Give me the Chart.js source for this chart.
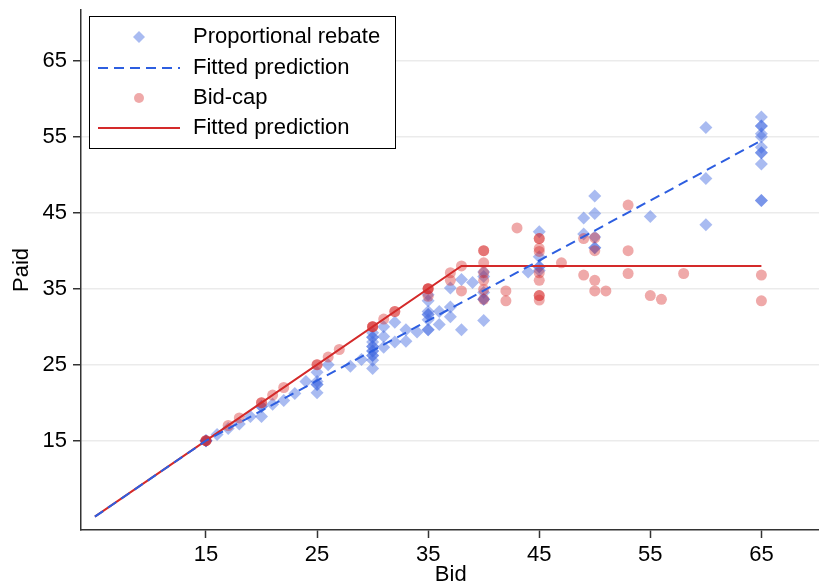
<!DOCTYPE html>
<html>
<head>
<meta charset="utf-8">
<script src="https://cdn.jsdelivr.net/npm/chart.js@4"></script>
<style>
  html, body { margin: 0; padding: 0; background: #fff; overflow: hidden; width: 819px; height: 588px; }
  canvas { display: block; }
</style>
</head>
<body>
<canvas id="bidChart" width="827" height="588"></canvas>
<script>
// Proportional rebate observations
const rebateBid = [15, 15, 15, 16, 17, 18, 19, 20, 20, 20, 21, 22, 23, 24,
    25, 25, 25, 25, 25, 26, 28, 29,
    30, 30, 30, 30, 30, 30, 30, 30, 30, 30, 30, 30,
    31, 31, 31, 32, 32, 33, 33, 34,
    35, 35, 35, 35, 35, 35, 35, 35, 36, 36, 37, 37, 37, 38, 38, 39,
    40, 40, 40, 40, 40, 40, 44, 45, 45, 45, 45, 45,
    49, 49, 50, 50, 50, 50, 50, 55, 60, 60, 60,
    65, 65, 65, 65, 65, 65, 65, 65, 65, 65, 65];
const rebatePaid = [15, 15, 15, 15.8, 16.6, 17.2, 18.2, 18.2, 19.5, 19.5, 19.8, 20.3, 21.2, 22.8,
    21.3, 22.4, 22.4, 22.8, 24, 25, 24.8, 25.7,
    24.5, 26.2, 26.2, 26.8, 26.8, 27.4, 27.4, 28, 28.6, 28.6, 29.2, 25.6,
    27.3, 28.7, 30, 28, 30.6, 28.1, 29.6, 29.3,
    29.6, 29.6, 30.9, 31.6, 31.6, 32, 33.4, 34.2, 30.3, 32, 31.3, 32.6, 35.1, 29.6, 36.2, 35.8,
    30.8, 33.6, 33.6, 34.5, 36.6, 37.2, 37.2, 37.4, 37.9, 37.9, 39.2, 42.5,
    42.2, 44.3, 40.4, 40.4, 41.8, 44.9, 47.2, 44.5, 43.4, 49.5, 56.2,
    46.6, 46.6, 51.4, 52.9, 52.9, 53.6, 55.0, 55.4, 56.4, 56.4, 57.6];

// Bid-cap observations
const capBid = [15, 15, 15, 17, 18, 20, 20, 21, 22, 25, 25, 26, 27,
    30, 30, 30, 31, 32, 32, 35, 35, 35, 35,
    37, 37, 38, 38, 40, 40, 40, 40, 40, 40, 40, 42, 42, 43,
    45, 45, 45, 45, 45, 45, 45, 45, 45, 47, 49, 49,
    50, 50, 50, 50, 51, 53, 53, 53, 55, 56, 58, 65, 65];
const capPaid = [15, 15, 15, 17, 18, 20, 20, 21, 22, 25, 25, 26, 27,
    30, 30, 30, 31, 32, 32, 35, 35, 35, 34,
    36.1, 37.1, 38, 34.7, 40, 40, 38.4, 37.1, 36.1, 34.9, 33.6, 34.7, 33.4, 43,
    41.6, 41.6, 40.3, 39.9, 37.1, 36.1, 34.1, 34.1, 33.5, 38.4, 41.6, 36.8,
    41.7, 40.0, 36.1, 34.7, 34.7, 46, 40, 37, 34.1, 33.6, 37, 36.8, 33.4];

// Fitted predictions
const rebateFitBid = [5, 15, 65];
const rebateFitPaid = [5, 15, 54.5];
const capFitBid = [5, 15, 38, 65];
const capFitPaid = [5, 15, 38, 38];

const xTicks = [15, 25, 35, 45, 55, 65];
const yTicks = [15, 25, 35, 45, 55, 65];

const legendLabels = ['Proportional rebate', 'Fitted prediction', 'Bid-cap', 'Fitted prediction'];

const BLUE_PT = 'rgba(65, 105, 225, 0.45)';
const BLUE_LINE = '#2d5ee0';
const RED_PT = 'rgba(214, 39, 40, 0.4)';
const RED_LINE = '#d42a2a';
const FONT = '"Liberation Sans", Arial, sans-serif';

function toXY(xs, ys) {
    return xs.map((x, i) => ({ x: x, y: ys[i] }));
}

// legend drawn inside the plot, top left
const boxLegend = {
    id: 'boxLegend',
    afterDraw(chart) {
        const ctx = chart.ctx;
        const bx = 89, by = 16, bw = 306, bh = 132;
        const rows = [37, 68, 98, 128];
        ctx.save();
        ctx.fillStyle = '#fff';
        ctx.fillRect(bx, by, bw, bh);
        ctx.strokeStyle = '#000';
        ctx.lineWidth = 1;
        ctx.strokeRect(bx + 0.5, by + 0.5, bw, bh);

        // diamond
        ctx.fillStyle = BLUE_PT;
        ctx.beginPath();
        ctx.moveTo(139, rows[0] - 6);
        ctx.lineTo(145, rows[0]);
        ctx.lineTo(139, rows[0] + 6);
        ctx.lineTo(133, rows[0]);
        ctx.closePath();
        ctx.fill();

        // dashed line
        ctx.strokeStyle = BLUE_LINE;
        ctx.lineWidth = 2;
        ctx.setLineDash([10, 6]);
        ctx.beginPath();
        ctx.moveTo(98, rows[1]);
        ctx.lineTo(180, rows[1]);
        ctx.stroke();
        ctx.setLineDash([]);

        // circle
        ctx.fillStyle = RED_PT;
        ctx.beginPath();
        ctx.arc(139, rows[2], 5, 0, Math.PI * 2);
        ctx.fill();

        // solid line
        ctx.strokeStyle = RED_LINE;
        ctx.beginPath();
        ctx.moveTo(98, rows[3]);
        ctx.lineTo(180, rows[3]);
        ctx.stroke();

        ctx.fillStyle = '#000';
        ctx.font = '22px ' + FONT;
        ctx.textBaseline = 'middle';
        ctx.textAlign = 'left';
        legendLabels.forEach((t, i) => ctx.fillText(t, 193, rows[i]));
        ctx.restore();
    }
};

document.addEventListener('DOMContentLoaded', function() {
    const ctx = document.getElementById('bidChart').getContext('2d');

    new Chart(ctx, {
        type: 'scatter',
        data: {
            datasets: [
                {
                    label: 'Fitted prediction',
                    data: toXY(rebateFitBid, rebateFitPaid),
                    showLine: true,
                    borderColor: BLUE_LINE,
                    borderWidth: 2,
                    borderDash: [10, 6],
                    pointRadius: 0,
                    order: 0
                },
                {
                    label: 'Fitted prediction',
                    data: toXY(capFitBid, capFitPaid),
                    showLine: true,
                    borderColor: RED_LINE,
                    borderWidth: 2,
                    pointRadius: 0,
                    order: 1
                },
                {
                    label: 'Bid-cap',
                    data: toXY(capBid, capPaid),
                    pointStyle: 'circle',
                    pointRadius: 5.5,
                    pointBorderWidth: 0,
                    backgroundColor: RED_PT,
                    borderColor: 'rgba(0,0,0,0)',
                    order: 2
                },
                {
                    label: 'Proportional rebate',
                    data: toXY(rebateBid, rebatePaid),
                    pointStyle: 'rectRot',
                    pointRadius: 6.5,
                    pointBorderWidth: 0,
                    backgroundColor: BLUE_PT,
                    borderColor: 'rgba(0,0,0,0)',
                    order: 3
                }
            ]
        },
        options: {
            responsive: false,
            animation: false,
            layout: { padding: { top: 10, right: 0, left: 0, bottom: 0 } },
            scales: {
                x: {
                    type: 'linear',
                    min: 3.75,
                    max: 70.32,
                    afterBuildTicks: s => { s.ticks = xTicks.map(v => ({ value: v })); },
                    afterFit: s => { s.height = 58; s.paddingLeft = 0; s.paddingRight = 0; },
                    grid: { drawOnChartArea: false, drawTicks: true, tickLength: 8, tickColor: '#333', tickWidth: 1.5 },
                    border: { display: true, color: '#333', width: 1.5 },
                    ticks: { color: '#000', padding: 4, font: { family: FONT, size: 22 }, maxRotation: 0 },
                    title: { display: true, text: 'Bid', color: '#000', padding: { top: 0, bottom: 0 }, font: { family: FONT, size: 22 } }
                },
                y: {
                    type: 'linear',
                    min: 3.25,
                    max: 71.67,
                    afterBuildTicks: s => { s.ticks = yTicks.map(v => ({ value: v })); },
                    afterFit: s => { s.width = 81; s.paddingTop = 0; s.paddingBottom = 0; },
                    grid: { color: '#ebebeb', lineWidth: 1.5, drawTicks: true, tickLength: 8, tickColor: '#333', tickWidth: 1.5 },
                    border: { display: true, color: '#333', width: 1.5 },
                    ticks: { color: '#000', padding: 6, font: { family: FONT, size: 22 } },
                    title: { display: true, text: 'Paid', color: '#000', padding: { top: 9, bottom: 0 }, font: { family: FONT, size: 22 } }
                }
            },
            plugins: {
                legend: { display: false },
                tooltip: { enabled: false }
            }
        },
        plugins: [boxLegend]
    });
});
</script>
</body>
</html>
